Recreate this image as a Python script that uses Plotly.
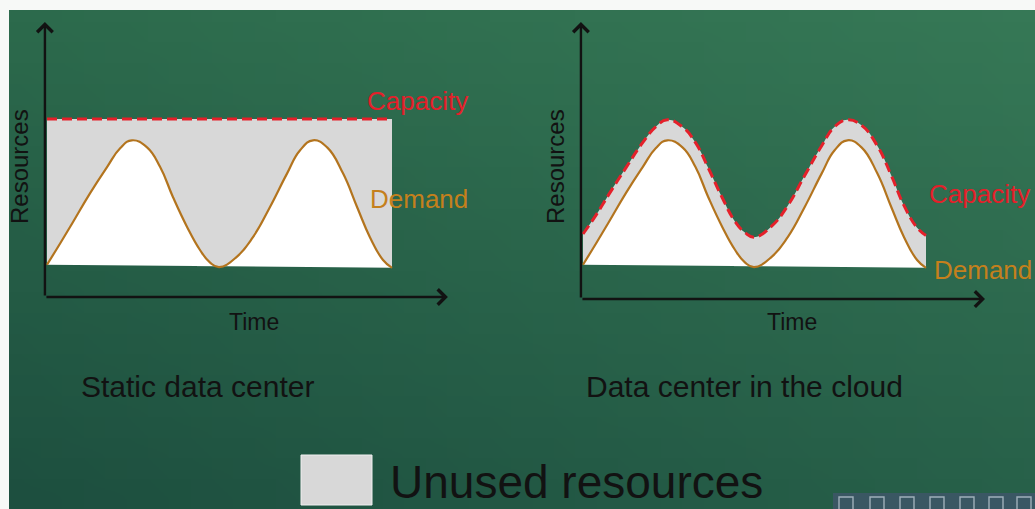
import base64
import struct
import zlib

import plotly.graph_objects as go

# ---- data -----------------------------------------------------------------
time = [0, 3.8, 7.5, 12.5, 17.4, 21.2, 24.6, 29, 32.8, 36.5, 40.6, 44.3, 47.2,
        49.9, 55, 59.7, 64.6, 69.6, 73.3, 77.1, 81.2, 85.8, 89.9, 93.6, 97.4, 100]
demand = [20.5, 34, 47.5, 66, 82.5, 94.5, 99.5, 95, 82.5, 63.5, 44.5, 30, 22,
          19, 25.5, 38, 57, 78.5, 93, 99.5, 95, 78.5, 57, 38, 23.5, 18.5]
capacity_cloud = [40, 52, 65, 82, 98, 108, 112.5, 108, 98, 82, 63, 48, 41,
                  38, 45, 58, 77, 96, 108, 112.5, 109, 96, 77, 58, 44, 39]
capacity_static_time = [0, 100]
capacity_static = [113, 113]
baseline_time = [0, 100]
baseline = [20.5, 18.5]

panel_titles = ["Static data center", "Data center in the cloud"]
axis_x_title = "Time"
axis_y_title = "Resources"
legend_label = "Unused resources"

# ---- colours / fonts --------------------------------------------------------
FONT = "Liberation Sans, Arial, sans-serif"
INK = "#121212"
RED = "#e4202a"
ORANGE_LINE = "#b3741e"
ORANGE_TEXT = "#c5801c"
UNUSED = "#d8d8d8"
W, H = 1035, 509


def gradient_png(w, h):
    """Small PNG with a bilinear green gradient, stretched as the slide background."""
    tl, tr = (44, 106, 76), (54, 120, 86)
    bl, br = (29, 79, 63), (39, 96, 73)
    rows = b""
    for j in range(h):
        v = j / (h - 1)
        row = b"\x00"
        for i in range(w):
            u = i / (w - 1)
            px = []
            for c in range(3):
                top = tl[c] * (1 - u) + tr[c] * u
                bot = bl[c] * (1 - u) + br[c] * u
                px.append(int(round(top * (1 - v) + bot * v)))
            row += bytes(px)
        rows += row

    def chunk(tag, data):
        return (struct.pack(">I", len(data)) + tag + data +
                struct.pack(">I", zlib.crc32(tag + data) & 0xFFFFFFFF))

    png = b"\x89PNG\r\n\x1a\n"
    png += chunk(b"IHDR", struct.pack(">IIBBBBB", w, h, 8, 2, 0, 0, 0))
    png += chunk(b"IDAT", zlib.compress(rows, 9))
    png += chunk(b"IEND", b"")
    return "data:image/png;base64," + base64.b64encode(png).decode()


fig = go.Figure()


def add_panel(xaxis, cap_t, cap_v, cap_shape):
    # white area under demand, down to the floor line
    fig.add_trace(go.Scatter(x=baseline_time, y=baseline, xaxis=xaxis, yaxis="y",
                             mode="lines", line=dict(width=0), hoverinfo="skip",
                             showlegend=False))
    fig.add_trace(go.Scatter(x=time, y=demand, xaxis=xaxis, yaxis="y",
                             mode="lines", fill="tonexty", fillcolor="#ffffff",
                             line=dict(color=ORANGE_LINE, width=2.2, shape="spline",
                                       smoothing=1.3),
                             hoverinfo="skip", showlegend=False))
    # grey unused area between demand and capacity
    fig.add_trace(go.Scatter(x=cap_t, y=cap_v, xaxis=xaxis, yaxis="y",
                             mode="lines", fill="tonexty", fillcolor=UNUSED,
                             line=dict(color=RED, width=3, dash="10px,5px",
                                       shape=cap_shape, smoothing=1.3),
                             hoverinfo="skip", showlegend=False))


add_panel("x", capacity_static_time, capacity_static, "linear")
add_panel("x2", time, capacity_cloud, "spline")

annotations = []


def axis_arrow(xref, x0, y0, x1, y1):
    annotations.append(dict(xref=xref, yref="y", axref=xref, ayref="y",
                            x=x1, y=y1, ax=x0, ay=y0, text="", showarrow=True,
                            arrowhead=4, arrowsize=1.25, arrowwidth=2.4,
                            arrowcolor=INK, standoff=0, startstandoff=0))


# axes with arrow heads
axis_arrow("x", -0.6, 0, -0.6, 174.6)
axis_arrow("x", -0.6, 0, 116.2, 0)
axis_arrow("x2", -0.6, -1.3, -0.6, 174.6)
axis_arrow("x2", -0.6, -1.3, 117.2, -1.3)


def label(text, px, py, size, color=INK, angle=0, xanchor="center"):
    annotations.append(dict(xref="paper", yref="paper", x=px / W, y=1 - py / H,
                            text=text, showarrow=False, textangle=angle,
                            xanchor=xanchor, yanchor="middle",
                            font=dict(family=FONT, size=size, color=color)))


label("Capacity", 417, 101, 26, RED)
label("Demand", 419, 199, 26, ORANGE_TEXT)
label("Capacity", 979, 194, 26, RED)
label("Demand", 983, 270, 26, ORANGE_TEXT)
label(axis_y_title, 19, 167, 24, angle=-90)
label(axis_y_title, 555, 167, 24, angle=-90)
label(axis_x_title, 254, 322, 23)
label(axis_x_title, 792, 322, 23)
label(panel_titles[0], 197, 386, 30)
label(panel_titles[1], 744, 386, 30)
label(legend_label, 388, 482, 46, xanchor="left")

shapes = [
    # legend swatch
    dict(type="rect", xref="paper", yref="paper", x0=301 / W, x1=372 / W,
         y0=1 - 505 / H, y1=1 - 455 / H, fillcolor=UNUSED,
         line=dict(color="#f0f0f0", width=1), layer="above"),
    # viewer toolbar strip
    dict(type="rect", xref="paper", yref="paper", x0=833 / W, x1=1.0,
         y0=0, y1=1 - 493 / H, fillcolor="rgba(62,86,104,0.85)",
         line=dict(width=0), layer="above"),
]
for ix in [846, 877, 907, 937, 967, 996, 1024]:
    shapes.append(dict(type="rect", xref="paper", yref="paper",
                       x0=(ix - 7) / W, x1=(ix + 7) / W,
                       y0=1 - 510 / H, y1=1 - 497 / H,
                       fillcolor="rgba(0,0,0,0)",
                       line=dict(color="#9fb0ba", width=1.4), layer="above"))

fig.update_layout(
    width=W, height=H, margin=dict(l=0, r=0, t=0, b=0),
    paper_bgcolor="#f7f9f7", plot_bgcolor="rgba(0,0,0,0)",
    xaxis=dict(domain=[0, 1], range=[-47 / 3.45, (W - 47) / 3.45],
               visible=False, fixedrange=True),
    xaxis2=dict(domain=[0, 1], range=[-583 / 3.43, (W - 583) / 3.43],
                visible=False, fixedrange=True, overlaying="x", anchor="y"),
    yaxis=dict(domain=[0, 1], range=[-(H - 297) / 1.575, 297 / 1.575],
               visible=False, fixedrange=True),
    images=[dict(source=gradient_png(48, 24), xref="paper", yref="paper",
                 x=9 / W, y=1 - 10 / H, sizex=(W - 9) / W, sizey=(H - 10) / H,
                 xanchor="left", yanchor="top", sizing="stretch",
                 layer="below")],
    annotations=annotations,
    shapes=shapes,
    showlegend=False,
    font=dict(family=FONT),
)

fig.write_html("out.html", config={"displayModeBar": False})
